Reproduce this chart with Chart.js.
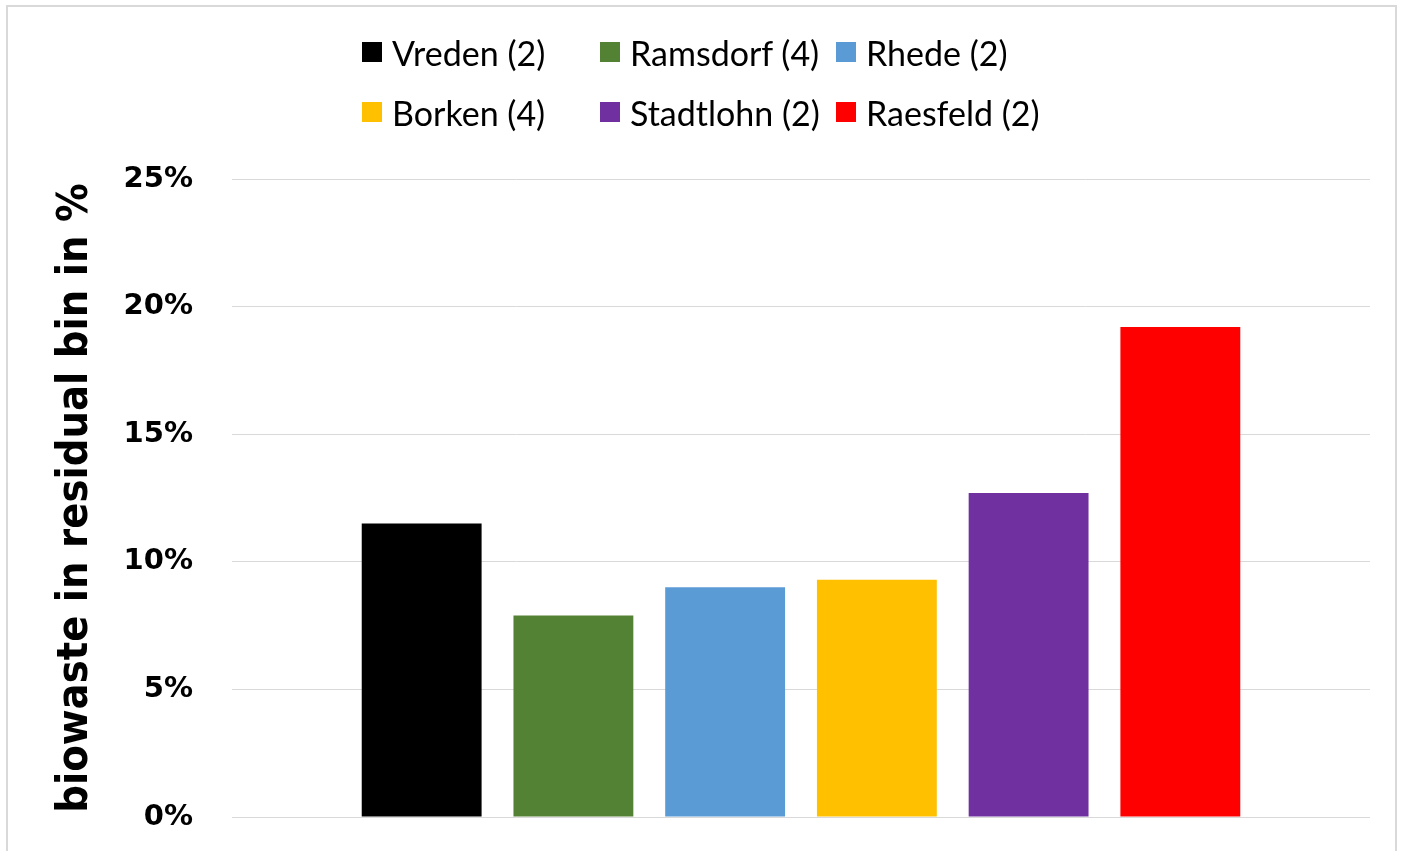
<!DOCTYPE html>
<html>
<head>
<meta charset="utf-8">
<script src="https://cdn.jsdelivr.net/npm/chart.js@4.4.1/dist/chart.umd.min.js"></script>
<style>
  html, body { margin: 0; padding: 0; background: #fff; overflow: hidden; }
  #wrap { position: relative; width: 1401px; height: 851px; }
  #legend {
    position: absolute; left: 362px; top: 30px;
    display: grid; grid-template-columns: 238px 236px 220px;
    row-gap: 16px;
    font-family: Lato, "Open Sans", sans-serif; font-size: 34px; color: #000;
  }
  #legend .item { display: flex; align-items: center; height: 44px; white-space: nowrap; }
  #legend .box { width: 20px; height: 20px; margin-right: 10px; flex: none; }
</style>
</head>
<body>
<div id="wrap">
  <canvas id="chart" width="1401" height="851"></canvas>
  <div id="legend"></div>
</div>
<script>
// ---------- data ----------
const categories = [""];
const towns = ["Vreden (2)", "Ramsdorf (4)", "Rhede (2)", "Borken (4)", "Stadtlohn (2)", "Raesfeld (2)"];
const shares = [11.5, 7.9, 9.0, 9.3, 12.7, 19.2];
const townColors = ["#000000", "#548235", "#5B9BD5", "#FFC000", "#7030A0", "#FF0000"];
const yTicks = [0, 5, 10, 15, 20, 25];

// frame round the chart (like the Excel chart border)
const framePlugin = {
  id: "frame",
  beforeDraw(chart) {
    const c = chart.ctx;
    c.save();
    c.fillStyle = "#fff";
    c.fillRect(0, 0, chart.width, chart.height);
    c.strokeStyle = "#d9d9d9";
    c.lineWidth = 2;
    c.strokeRect(7, 6, 1389, 870);
    c.restore();
  },
};

const datasets = towns.map((name, i) => ({
  label: name,
  data: [shares[i]],
  backgroundColor: townColors[i],
  borderWidth: 0,
  categoryPercentage: 0.8,
  barPercentage: 0.79,
}));

const chart = new Chart(document.getElementById("chart").getContext("2d"), {
  type: "bar",
  data: { labels: categories, datasets },
  plugins: [framePlugin],
  options: {
    responsive: false,
    animation: false,
    layout: { padding: { left: 8, right: 31, top: 179, bottom: 34 } },
    plugins: {
      legend: { display: false },
      tooltip: { enabled: false },
    },
    scales: {
      x: { display: false },
      y: {
        min: 0,
        max: 25,
        afterFit: (scale) => {
          scale.width = 224;
          scale.paddingTop = 0;
          scale.paddingBottom = 0;
        },
        afterBuildTicks: (scale) => { scale.ticks = yTicks.map((v) => ({ value: v })); },
        grid: { color: "#d9d9d9", lineWidth: 1, drawTicks: false },
        border: { display: false },
        ticks: {
          padding: 39,
          color: "#000",
          font: { family: "DejaVu Sans", weight: "bold", size: 29 },
          callback: (v) => v + "%",
        },
        title: {
          display: true,
          text: "biowaste in residual bin in %",
          color: "#000",
          font: { family: "DejaVu Sans Condensed", weight: "bold", size: 43 },
          padding: { top: 42, bottom: 0 },
        },
      },
    },
  },
});

// legend in three fixed columns, as in the original
const legendEl = document.getElementById("legend");
chart.data.datasets.forEach((ds) => {
  const item = document.createElement("div");
  item.className = "item";
  item.innerHTML = `<span class="box" style="background:${ds.backgroundColor}"></span><span>${ds.label}</span>`;
  legendEl.appendChild(item);
});
</script>
</body>
</html>
